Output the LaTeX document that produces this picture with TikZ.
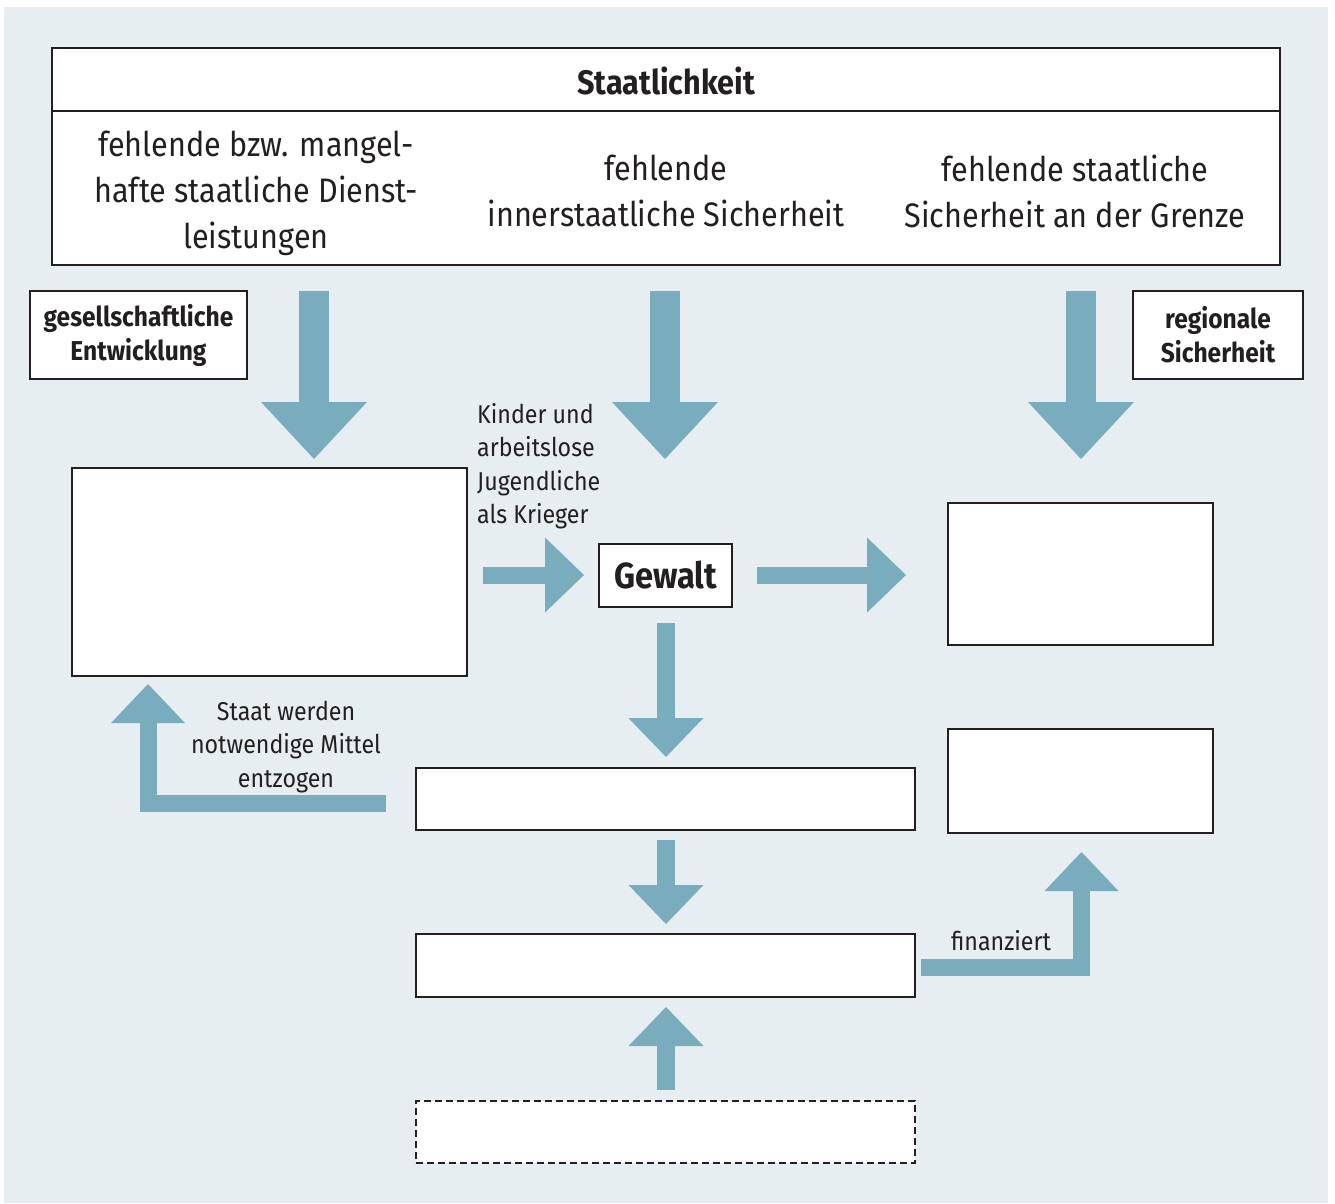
\documentclass[tikz,border=0pt]{standalone}
\usepackage{fontspec}
\setmainfont{Fira Sans}[FakeStretch=0.9]
\usetikzlibrary{arrows.meta}
\definecolor{bgc}{RGB}{230,238,242}
\definecolor{arrc}{RGB}{121,173,190}
\definecolor{ink}{RGB}{35,31,32}
\begin{document}
\begin{tikzpicture}[x=1pt,y=-1pt,
  box/.style={draw=ink, line width=2pt, fill=white, inner sep=0pt},
  dbox/.style={box, dash pattern=on 7pt off 4pt},
  txt/.style={text=ink, inner sep=0pt, align=center},
  headtxt/.style={txt, font=\fontsize{34}{46}\selectfont},
  lbltxt/.style={txt, font=\fontsize{25.8}{33.5}\selectfont},
  boldlbl/.style={txt, font=\bfseries\fontsize{27.3}{34}\selectfont},
  bigarrow/.style={draw=arrc, line width=30pt, -{Triangle[length=57pt,width=106pt,line width=0pt]}},
  midarrow/.style={draw=arrc, line width=18pt, -{Triangle[length=39pt,width=75pt,line width=0pt]}},
  elbarrow/.style={draw=arrc, line width=17pt, -{Triangle[length=39pt,width=74pt,line width=0pt]}}
]
\useasboundingbox (0,0) rectangle (1335,1203);
\fill[bgc] (4,7) rectangle (1328,1203);

% top table
\node[box, minimum width=1228pt, minimum height=217pt] (tab) at (666,156.5) {};
\draw[ink, line width=2pt] (52,111) -- (1280,111);
\node[txt, font=\bfseries\fontsize{34}{40}\selectfont] (title) at (666,81) {Staatlichkeit};
\node[headtxt] (c1) at (256,193) {fehlende bzw. mangel-\\hafte staatliche Dienst-\\leistungen};
\node[headtxt] (c2) at (666,191) {fehlende\\innerstaatliche Sicherheit};
\node[headtxt] (c3) at (1075,191) {fehlende staatliche\\Sicherheit an der Grenze};

% side boxes
\node[box, minimum width=217pt, minimum height=88pt] (ges) at (138.5,335) {};
\node[boldlbl] at (ges.center) {gesellschaftliche\\Entwicklung};
\node[box, minimum width=170pt, minimum height=88pt] (reg) at (1218,335) {};
\node[boldlbl] at (reg.center) {regionale\\Sicherheit};

% main boxes
\node[box, minimum width=395pt, minimum height=208pt] (lbox) at (269.5,572) {};
\node[box, minimum width=133pt, minimum height=63pt] (gew) at (665.5,575.5) {};
\node[txt, font=\bfseries\fontsize{36.3}{40}\selectfont] at (gew.center) {Gewalt};
\node[box, minimum width=265pt, minimum height=142pt] (rb1) at (1080.5,574) {};
\node[box, minimum width=265pt, minimum height=104pt] (rb2) at (1080.5,781) {};
\node[box, minimum width=499pt, minimum height=62pt] (m1) at (665.5,799) {};
\node[box, minimum width=499pt, minimum height=63pt] (m2) at (665.5,965.5) {};
\node[dbox, minimum width=499pt, minimum height=62pt] (m3) at (665.5,1132) {};

% labels
\node[lbltxt, align=left, anchor=west] (kinder) at (477,466) {Kinder und\\arbeitslose\\Jugendliche\\als Krieger};
\node[lbltxt] (staat) at (286,747) {Staat werden\\notwendige Mittel\\entzogen};
\node[lbltxt] (fin) at (1001,941) {finanziert};

% connector end points
\coordinate (a1s) at (314,291); \coordinate (a1e) at (314,459);
\coordinate (a2s) at (665,291); \coordinate (a2e) at (665,459);
\coordinate (a3s) at (1081,291); \coordinate (a3e) at (1081,459);
\coordinate (k1s) at (483,575); \coordinate (k1e) at (584,575);
\coordinate (g1s) at (757,575); \coordinate (g1e) at (906,575);
\coordinate (g2s) at (666,623); \coordinate (g2e) at (666,757);
\coordinate (m1s) at (666,840); \coordinate (m1e) at (666,924);
\coordinate (m3s) at (666,1090); \coordinate (m3e) at (666,1007);
\coordinate (sts) at (386,803.5); \coordinate (ste) at (148,684);
\coordinate (fis) at (921,967.5); \coordinate (fie) at (1081.5,852);

\draw[bigarrow] (a1s) -- (a1e);
\draw[bigarrow] (a2s) -- (a2e);
\draw[bigarrow] (a3s) -- (a3e);
\draw[midarrow, line width=17pt] (k1s) -- (k1e);
\draw[midarrow, line width=17pt] (g1s) -- (g1e);
\draw[midarrow] (g2s) -- (g2e);
\draw[midarrow] (m1s) -- (m1e);
\draw[midarrow] (m3s) -- (m3e);
\draw[elbarrow] (sts) -| (ste);
\draw[elbarrow] (fis) -| (fie);
\end{tikzpicture}
\end{document}
